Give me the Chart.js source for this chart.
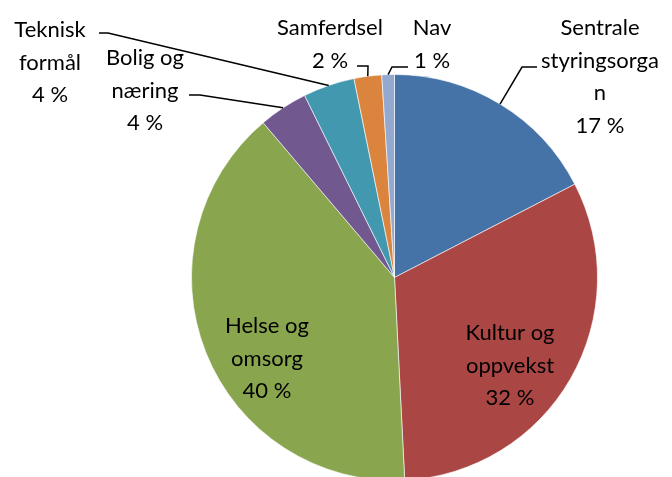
<!DOCTYPE html>
<html>
<head>
<meta charset="utf-8">
<script src="https://cdn.jsdelivr.net/npm/chart.js@4"></script>
<style>
  html, body { margin: 0; padding: 0; background: #fff; overflow: hidden; }
  #wrap { width: 672px; height: 482px; position: relative; }
</style>
</head>
<body>
<div id="wrap"><canvas id="pie"></canvas></div>
<script>
// data (percent of total)
var categories = ['Sentrale styringsorgan', 'Kultur og oppvekst', 'Helse og omsorg', 'Bolig og næring', 'Teknisk formål', 'Samferdsel', 'Nav'];
var shares = [17.4, 31.8, 39.6, 3.9, 4.1, 2.2, 1.0];
var labelLines = [
    ['Sentrale', 'styringsorga', 'n'],
    ['Kultur og', 'oppvekst'],
    ['Helse og', 'omsorg'],
    ['Bolig og', 'næring'],
    ['Teknisk', 'formål'],
    ['Samferdsel'],
    ['Nav']
];

var colors = ['#4572A7', '#AA4643', '#89A54E', '#71588F', '#4198AF', '#DB843D', '#93A9CF'];

// label placement: center x, first line y, and leader line (text end x,y and elbow x)
var labelPos = [
    { x: 600, y: 28, lead: { x: 537, y: 67, elbow: 522 } },
    { x: 510, y: 333 },
    { x: 267, y: 326 },
    { x: 145, y: 58, lead: { x: 189, y: 95, elbow: 200 } },
    { x: 50, y: 30, lead: { x: 99, y: 33, elbow: 108 } },
    { x: 330, y: 28, lead: { x: 357, y: 66, elbow: 368 } },
    { x: 432, y: 28, lead: { x: 408, y: 67, elbow: 392 } }
];

var pieLabels = {
    id: 'pieLabels',
    afterDatasetsDraw: function (chart) {
        var ctx = chart.ctx
        var meta = chart.getDatasetMeta(0)
        var total = shares.reduce(function (a, b) { return a + b }, 0)
        ctx.save()
        ctx.font = '22px Lato, "Liberation Sans", sans-serif'
        ctx.fillStyle = '#000'
        ctx.textAlign = 'center'
        ctx.textBaseline = 'middle'
        meta.data.forEach(function (arc, i) {
            var p = labelPos[i]
            var lines = labelLines[i].concat([Math.round(shares[i] / total * 100) + ' %'])
            lines.forEach(function (t, k) {
                ctx.fillText(t, p.x, p.y + k * 32.5)
            })
            if (p.lead) {
                var mid = (arc.startAngle + arc.endAngle) / 2
                var ax = arc.x + Math.cos(mid) * arc.outerRadius
                var ay = arc.y + Math.sin(mid) * arc.outerRadius
                ctx.beginPath()
                ctx.strokeStyle = '#000'
                ctx.lineWidth = 1.5
                ctx.moveTo(p.lead.x, p.lead.y)
                ctx.lineTo(p.lead.elbow, p.lead.y)
                ctx.lineTo(ax, ay)
                ctx.stroke()
            }
        })
        ctx.restore()
    }
};

new Chart(document.getElementById('pie'), {
    type: 'pie',
    data: {
        labels: categories,
        datasets: [{
            data: shares,
            backgroundColor: colors,
            borderColor: 'rgba(255,255,255,0.6)',
            borderWidth: 1
        }]
    },
    options: {
        responsive: true,
        maintainAspectRatio: false,
        animation: false,
        layout: { padding: { left: 191, right: 74, top: 74, bottom: 1 } },
        plugins: {
            legend: { display: false },
            tooltip: { enabled: false }
        }
    },
    plugins: [pieLabels]
});
</script>
</body>
</html>
